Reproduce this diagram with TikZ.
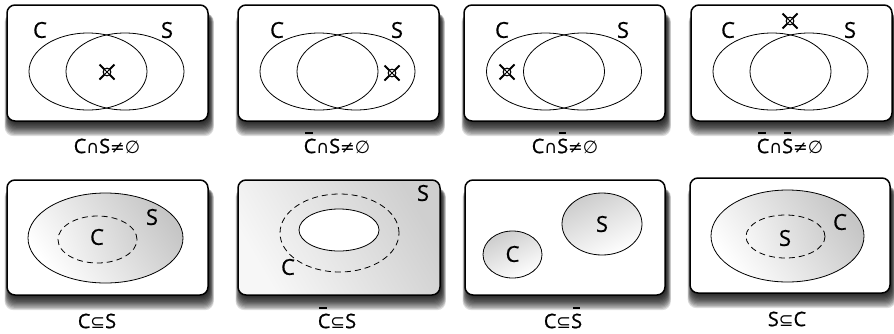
\documentclass[tikz,border=0pt]{standalone}
\usepackage{fontspec}
\setmainfont{Open Sans}[FakeBold=0.7]
\newfontfamily\symf{DejaVu Sans}[Scale=0.88]
\tikzset{
  lbl/.style={font=\fontsize{22}{24}\selectfont, inner sep=0pt},
  capt/.style={font=\fontsize{20}{22}\selectfont, inner sep=0pt},
  card/.style={line width=1.5pt, rounded corners=8pt, fill=white},
  venn/.style={line width=0.8pt},
  dsh/.style={line width=0.8pt, dash pattern=on 6pt off 4pt},
  shd/.style={top color=gray!45, bottom color=white, shading angle=-55},
}
\newcommand\cardshadow[4]{%
  \foreach \e in {0,...,11}{%
    \fill[black,opacity=0.13,rounded corners=9pt]
      ({#1+2-0.4*\e},{#2+8}) rectangle ({#3+1.5+0.4*\e},{#4+2+1.2*\e});
  }}
\newcommand\xmarker[1]{%
  \begin{scope}[shift={(#1)}]
    \draw[line width=2pt] (-7.5,-7.5)--(7.5,7.5) (-7.5,7.5)--(7.5,-7.5);
    \draw[line width=1.1pt, fill=white] (0,0) circle[radius=3.8pt];
    \draw[line width=0.8pt] (-2.5,-2.5)--(2.5,2.5) (-2.5,2.5)--(2.5,-2.5);
  \end{scope}}
\newcommand\barred[1]{\ooalign{#1\cr\kern0.08em\raisebox{0.95em}{\rule{0.36em}{0.1em}}\hidewidth\cr}}
\newcommand\mycap{{\symf ∩}}
\newcommand\myne{{\symf ≠}}
\newcommand\myes{{\symf ∅}}
\newcommand\mysbe{{\symf ⊆}}
\begin{document}
\begin{tikzpicture}[x=1pt,y=-1pt]
\useasboundingbox (0,0) rectangle (894,333);
% ---------- top row ----------
\cardshadow{7}{5}{208}{121}
\cardshadow{238}{5}{439}{121}
\cardshadow{464}{5}{665}{121}
\cardshadow{691}{5}{892}{121}
\draw[card] (7,5) rectangle (208,121);
\draw[card] (238,5) rectangle (439,121);
\draw[card] (464,5) rectangle (665,121);
\draw[card] (691,5) rectangle (892,121);
% box 1
\draw[venn] (88,71.5) ellipse[x radius=59pt, y radius=38.5pt];
\draw[venn] (125,71.5) ellipse[x radius=59pt, y radius=38.5pt];
\node[lbl] (c1) at (40,30) {C};
\node[lbl] (s1) at (167,30) {S};
\xmarker{107,72}
\node[capt] (k1) at (107,146) {C\mycap S\myne\myes};
% box 2
\draw[venn] (319,71.5) ellipse[x radius=59pt, y radius=38.5pt];
\draw[venn] (356,71.5) ellipse[x radius=59pt, y radius=38.5pt];
\node[lbl] (c2) at (277,30) {C};
\node[lbl] (s2) at (397,30) {S};
\xmarker{392,73}
\node[capt] (k2) at (337,146) {\barred{C}\mycap S\myne\myes};
% box 3
\draw[venn] (545.5,71.5) ellipse[x radius=59pt, y radius=38.5pt];
\draw[venn] (582.5,71.5) ellipse[x radius=59pt, y radius=38.5pt];
\node[lbl] (c3) at (502,30) {C};
\node[lbl] (s3) at (623,30) {S};
\xmarker{507,72}
\node[capt] (k3) at (565,146) {C\mycap\barred{S}\myne\myes};
% box 4
\draw[venn] (772,71.5) ellipse[x radius=59pt, y radius=38.5pt];
\draw[venn] (809,71.5) ellipse[x radius=59pt, y radius=38.5pt];
\node[lbl] (c4) at (728,30) {C};
\node[lbl] (s4) at (850,30) {S};
\xmarker{790,21}
\node[capt] (k4) at (790,146) {\barred{C}\mycap\barred{S}\myne\myes};
% ---------- bottom row ----------
\cardshadow{7}{180}{208}{295}
\cardshadow{238}{180}{440}{295}
\cardshadow{465}{180}{665}{295}
\cardshadow{690}{178}{890}{293}
% box 5
\draw[card] (7,180) rectangle (208,295);
\draw[venn, shd] (105.5,238) ellipse[x radius=77.5pt, y radius=45pt];
\draw[dsh, top color=gray!35, bottom color=gray!8, shading angle=-70] (97.5,239.5) ellipse[x radius=39.5pt, y radius=23.5pt];
\node[lbl] (c5) at (97,237) {C};
\node[lbl] (s5) at (152,217) {S};
\node[capt] (k5) at (97,321) {C\mysbe S};
% box 6
\draw[card, top color=gray!38, bottom color=gray!6, shading angle=-60] (238,180) rectangle (440,295);
\draw[dsh] (339.5,233) ellipse[x radius=59.5pt, y radius=39pt];
\draw[venn, fill=white] (339,230) ellipse[x radius=40pt, y radius=21pt];
\node[lbl] (s6) at (423,193) {S};
\node[lbl] (c6) at (288,267) {C};
\node[capt] (k6) at (337,321) {\barred{C}\mysbe S};
% box 7
\draw[card] (465,180) rectangle (665,295);
\draw[venn, top color=gray!40, bottom color=white, shading angle=25] (512.5,254.5) ellipse[x radius=29.5pt, y radius=23.5pt];
\draw[venn, top color=gray!40, bottom color=white, shading angle=25] (602,224) ellipse[x radius=40pt, y radius=31pt];
\node[lbl] (c7) at (512.5,254) {C};
\node[lbl] (s7) at (602,224) {S};
\node[capt] (k7) at (563,321) {C\mysbe\barred{S}};
% box 8
\draw[card] (690,178) rectangle (890,293);
\draw[venn, shd] (787.5,236) ellipse[x radius=76.5pt, y radius=46pt];
\draw[dsh, top color=gray!35, bottom color=gray!8, shading angle=-70] (785.5,236.5) ellipse[x radius=39.5pt, y radius=21.5pt];
\node[lbl] (s8) at (785,238) {S};
\node[lbl] (c8) at (840,222) {C};
\node[capt] (k8) at (787,319) {S\mysbe C};
\end{tikzpicture}
\end{document}
